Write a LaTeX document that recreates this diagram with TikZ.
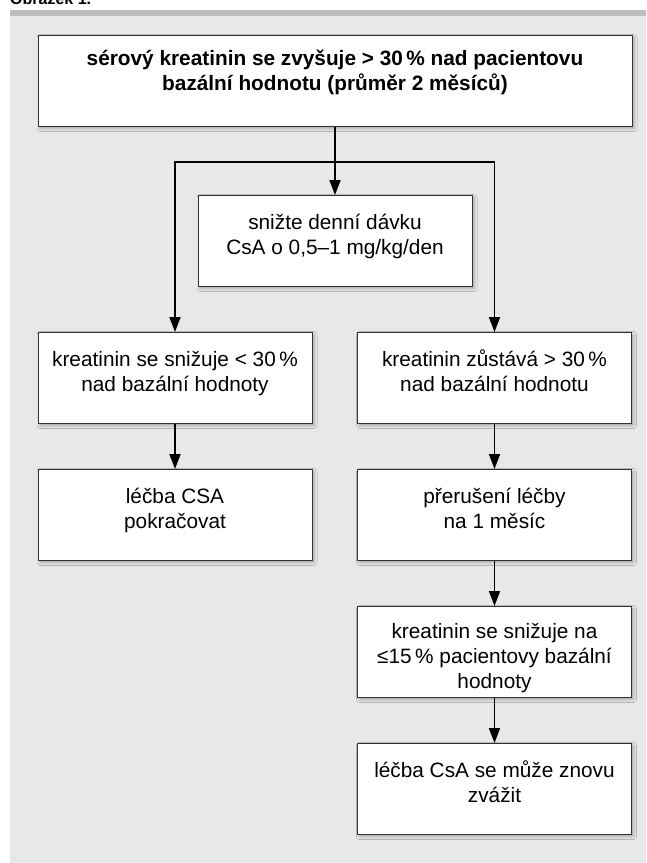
\documentclass[tikz,border=0pt]{standalone}
\usepackage{fontspec}
\setmainfont{Liberation Sans}
\usetikzlibrary{arrows.meta,shadows.blur}

\definecolor{panel}{HTML}{E8E8E8}
\definecolor{bar}{HTML}{BDBDBD}
\definecolor{edge}{HTML}{333333}

% text of a box, set from the top
\newcommand{\boxtext}[3][17pt]{\parbox[t][91pt][t]{#2}{\centering\vspace*{#1}\strut#3}}

\begin{document}
\begin{tikzpicture}[x=1pt, y=-1pt, node distance=137pt,
    >={Triangle[length=15pt,width=11pt]},
    box/.style={draw=edge, line width=1pt, fill=white, inner sep=0pt,
      blur shadow={shadow xshift=2pt, shadow yshift=-2pt, shadow blur radius=3pt, shadow opacity=30},
      font=\fontsize{20.8}{24.8}\selectfont},
    flow/.style={line width=1.8pt}]

  \useasboundingbox (0,0) rectangle (646,863);
  \fill[panel] (10,10) rectangle (646,863);
  \fill[bar] (10,10) rectangle (646,16);
  \node[anchor=base west, inner sep=0pt, font=\bfseries\fontsize{16}{18}\selectfont] (title) at (10,4) {Obrázek 1.};

  \node[box, font=\bfseries\fontsize{20.8}{25}\selectfont] (serum) at (335,81)
    {\boxtext[12pt]{594pt}{sérový kreatinin se zvyšuje > 30\,\% nad pacientovu\\bazální hodnotu (průměr 2 měsíců)}};
  \node[box] (dose) at (335,241) {\boxtext{274pt}{snižte denní dávku\\CsA o 0,5–1 mg/kg/den}};
  \node[box] (fall) [below of=dose, xshift=-160pt] {\boxtext{274pt}{kreatinin se snižuje < 30\,\%\\nad bazální hodnoty}};
  \node[box] (stay) [below of=dose, xshift=159.5pt] {\boxtext{274pt}{kreatinin zůstává > 30\,\%\\nad bazální hodnotu}};
  \node[box] (keep) [below of=fall] {\boxtext{274pt}{léčba CSA\\pokračovat}};
  \node[box] (pause) [below of=stay] {\boxtext{274pt}{přerušení léčby\\na 1 měsíc}};
  \node[box] (drop) [below of=pause] {\boxtext[15pt]{274pt}{kreatinin se snižuje na\\≤15\,\% pacientovy bazální\\hodnoty}};
  \node[box] (retry) [below of=drop] {\boxtext{274pt}{léčba CsA se může znovu\\zvážit}};

  \coordinate (split) at (335,162);

  \draw[flow] (serum) -- (split);
  \draw[flow,->] (split) -- (dose);
  \draw[flow,->] (split) -| (fall);
  \draw[flow,->] (split) -| (stay);

  \draw[flow,->] (fall) -- (keep);
  \draw[flow,->] (stay) -- (pause);
  \draw[flow,->] (pause) -- (drop);
  \draw[flow,->] (drop) -- (retry);
\end{tikzpicture}
\end{document}
